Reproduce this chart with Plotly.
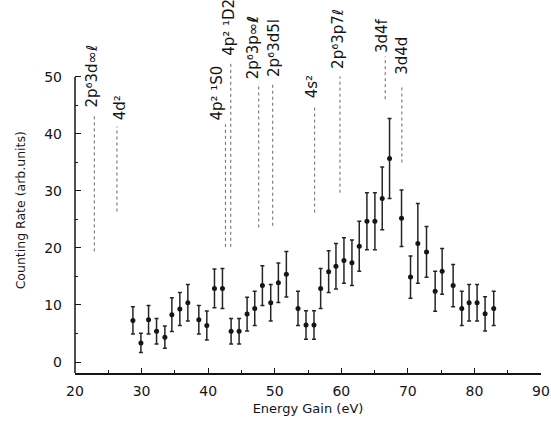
import plotly.graph_objects as go

# ---- data ----
energy = [28.7, 29.9, 31.05, 32.25, 33.5, 34.55, 35.75, 36.95, 38.6, 39.8,
          40.95, 42.15, 43.45, 44.65, 45.85, 47.0, 48.15, 49.4, 50.55, 51.75,
          53.5, 54.7, 55.9, 56.9, 58.1, 59.2, 60.4, 61.6, 62.7, 63.85,
          65.05, 66.15, 67.25, 69.05, 70.4, 71.5, 72.8, 74.1, 75.15, 76.8,
          78.1, 79.2, 80.4, 81.6, 82.9]
counts = [7.3, 3.35, 7.4, 5.4, 4.35, 8.3, 9.3, 10.4, 7.4, 6.4,
          12.9, 12.9, 5.4, 5.4, 8.4, 9.4, 13.4, 10.4, 13.9, 15.4,
          9.4, 6.5, 6.5, 12.9, 15.85, 16.8, 17.8, 17.4, 20.3, 24.7,
          24.7, 28.7, 35.7, 25.2, 14.9, 20.8, 19.3, 12.4, 15.9, 13.4,
          9.4, 10.4, 10.4, 8.45, 9.4]
errors = [2.4, 1.7, 2.5, 2.25, 1.95, 2.95, 2.9, 3.2, 2.5, 2.55,
          3.4, 3.5, 2.25, 2.25, 2.95, 3.0, 3.5, 3.2, 3.45, 4.0,
          3.0, 2.5, 2.5, 3.5, 3.65, 4.0, 4.0, 4.0, 4.4, 5.0,
          5.0, 5.5, 7.0, 4.95, 3.7, 7.0, 4.45, 3.5, 4.0, 3.7,
          3.0, 3.2, 3.2, 3.0, 3.0]

# level markers (energy position, dotted line extent, label)
level_energy = [22.9, 26.3, 42.6, 43.4, 47.6, 49.7, 56.0, 59.8, 66.6, 69.1]
level_top = [43.1, 41.3, 41.7, 52.7, 48.9, 48.7, 44.8, 50.1, 53.6, 48.3]
level_bottom = [19.4, 26.4, 20.2, 20.2, 23.6, 23.9, 26.2, 29.7, 46.1, 35.0]
label_energy = [22.5, 26.8, 41.4, 43.1, 46.7, 50.0, 55.6, 59.6, 66.1, 69.1]
label_y = [44.3, 42.0, 42.0, 53.4, 49.2, 49.6, 46.0, 51.0, 53.9, 50.0]
level_labels = ["2p⁶3d∞ℓ", "4d²", "4p² ¹S0", "4p² ¹D2", "2p⁶3p∞<b>ℓ</b>",
                "2p⁶3d5l", "4s²", "2p⁶3p7ℓ", "3d4f", "3d4d"]

x_ticks = [20, 30, 40, 50, 60, 70, 80, 90]
y_ticks = [0, 10, 20, 30, 40, 50]

FONT = "DejaVu Sans"
INK = "#151515"

fig = go.Figure()

# dotted level lines
lx, ly = [], []
for e, t, b in zip(level_energy, level_top, level_bottom):
    lx += [e, e, None]
    ly += [b, t, None]
fig.add_trace(go.Scatter(x=lx, y=ly, mode="lines",
                         line=dict(color="#666666", width=1, dash="dot"),
                         hoverinfo="skip", showlegend=False))

# data with error bars
fig.add_trace(go.Scatter(
    x=energy, y=counts, mode="markers",
    marker=dict(color=INK, size=5),
    error_y=dict(type="data", array=errors, visible=True,
                 color="#262626", thickness=1.5, width=2),
    showlegend=False))

for e, y, t in zip(label_energy, label_y, level_labels):
    fig.add_annotation(x=e, y=y, xref="x", yref="y", text=t, showarrow=False,
                       textangle=-90, xanchor="center", yanchor="bottom",
                       font=dict(family=FONT, size=15, color=INK))

# y-axis line only up to 50
fig.add_shape(type="line", xref="paper", yref="y", x0=0, x1=0, y0=-1.93, y1=50,
              line=dict(color=INK, width=1.5))

# y-axis title
fig.add_annotation(xref="paper", yref="y", x=-0.118, y=26.6,
                   text="Counting Rate (arb.units)", showarrow=False,
                   textangle=-90, xanchor="center", yanchor="middle",
                   font=dict(family=FONT, size=12.5, color=INK))

fig.update_layout(
    width=551, height=424,
    margin=dict(l=75, r=10, t=2, b=51),
    paper_bgcolor="white", plot_bgcolor="white",
    font=dict(family=FONT, size=14, color=INK),
    xaxis=dict(range=[20, 90], tickvals=x_ticks, ticks="inside", ticklen=5,
               tickwidth=1, tickcolor=INK, showline=True, linecolor=INK,
               linewidth=1.5, showgrid=False, zeroline=False,
               minor=dict(ticks="inside", dtick=5, tick0=0, ticklen=3,
                          tickcolor=INK, showgrid=False),
               tickfont=dict(family=FONT, size=14, color=INK),
               ticklabelstandoff=4,
               title=dict(text="Energy Gain (eV)", standoff=6,
                          font=dict(family=FONT, size=13, color=INK))),
    yaxis=dict(range=[-1.93, 63.15], tickvals=y_ticks, ticks="inside", ticklen=6,
               tickwidth=1, tickcolor=INK, showline=False, showgrid=False,
               zeroline=False,
               minor=dict(ticks="inside", tickvals=[5, 15, 25, 35, 45], ticklen=3,
                          tickcolor=INK, showgrid=False),
               tickfont=dict(family=FONT, size=14, color=INK),
               ticklabelstandoff=12),
)

fig.write_html("out.html", config={"displayModeBar": False},
               post_script="document.body.style.margin='0';")
